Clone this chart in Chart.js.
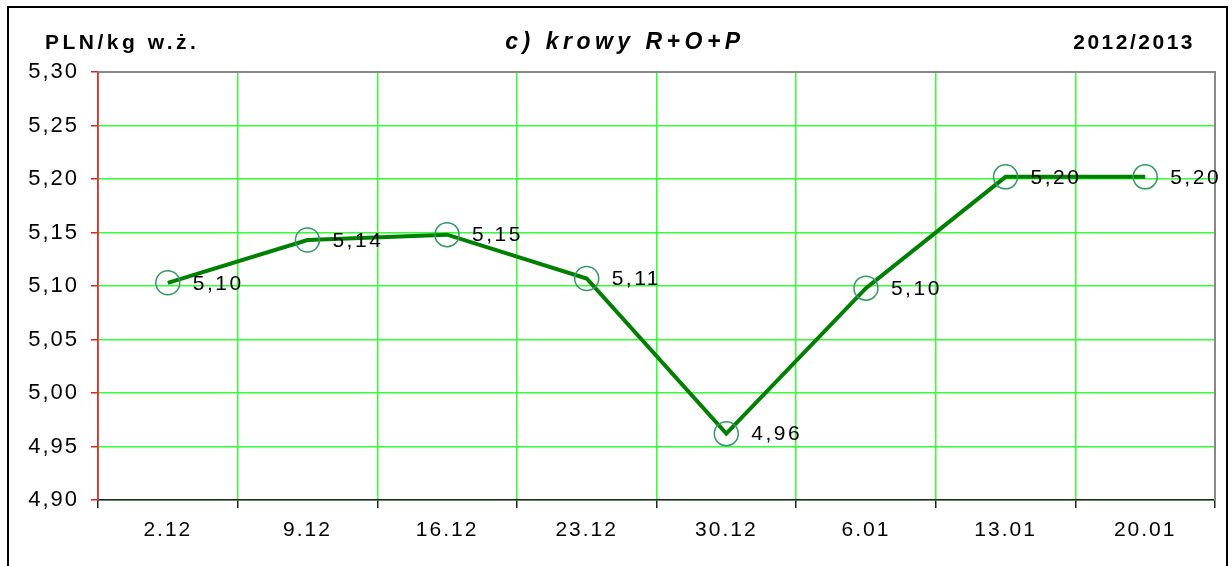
<!DOCTYPE html>
<html>
<head>
<meta charset="utf-8">
<script src="https://cdn.jsdelivr.net/npm/chart.js@4"></script>
<style>
  html, body { margin: 0; padding: 0; background: #fff; }
  #wrap { width: 1232px; height: 566px; }
</style>
</head>
<body>
<div id="wrap"><canvas id="priceChart" width="1232" height="566"></canvas></div>
<script>
const weeks = ["2.12", "9.12", "16.12", "23.12", "30.12", "6.01", "13.01", "20.01"];
const prices = [5.103, 5.143, 5.148, 5.107, 4.962, 5.098, 5.202, 5.202];
const priceLabels = ["5,10", "5,14", "5,15", "5,11", "4,96", "5,10", "5,20", "5,20"];
const unitText = "PLN/kg w.ż.";
const titleText = "c) krowy R+O+P";
const seasonText = "2012/2013";

const fontFamily = "'Liberation Sans', Arial, sans-serif";
const gridGreen = "#33ff33";

// frame, headings, plot border and value labels
const decorations = {
  id: "decorations",
  beforeDraw(chart) {
    const ctx = chart.ctx;
    ctx.save();
    ctx.fillStyle = "#fff";
    ctx.fillRect(0, 0, chart.width, chart.height);
    ctx.strokeStyle = "#000";
    ctx.lineWidth = 2;
    ctx.beginPath();
    ctx.moveTo(8, 570);
    ctx.lineTo(8, 7);
    ctx.lineTo(1227, 7);
    ctx.lineTo(1227, 570);
    ctx.stroke();

    ctx.fillStyle = "#000";
    ctx.textBaseline = "middle";
    ctx.font = "bold 21px " + fontFamily;
    ctx.letterSpacing = "3.5px";
    ctx.textAlign = "left";
    ctx.fillText(unitText, 45, 43);
    ctx.letterSpacing = "2.5px";
    ctx.textAlign = "right";
    ctx.fillText(seasonText, 1195, 43);
    ctx.font = "italic bold 23px " + fontFamily;
    ctx.letterSpacing = "4.5px";
    ctx.textAlign = "center";
    ctx.fillText(titleText, 625, 43);
    ctx.restore();
    // spaced-out digits for the axis ticks as well
    ctx.letterSpacing = "2px";
  },
  beforeDatasetsDraw(chart) {
    const { ctx, chartArea: a } = chart;
    ctx.save();
    ctx.strokeStyle = "#888";
    ctx.lineWidth = 2;
    ctx.beginPath();
    ctx.moveTo(a.left, a.top);
    ctx.lineTo(a.right, a.top);
    ctx.lineTo(a.right, a.bottom);
    ctx.stroke();
    // red value axis on top of the first vertical grid line
    ctx.strokeStyle = "#dd3333";
    ctx.lineWidth = 1.5;
    ctx.beginPath();
    ctx.moveTo(a.left, a.top);
    ctx.lineTo(a.left, a.bottom);
    ctx.stroke();
    ctx.restore();
  },
  afterDatasetsDraw(chart) {
    const ctx = chart.ctx;
    const meta = chart.getDatasetMeta(0);
    ctx.save();
    ctx.fillStyle = "#000";
    ctx.font = "21px " + fontFamily;
    ctx.letterSpacing = "2.5px";
    ctx.textAlign = "left";
    ctx.textBaseline = "middle";
    meta.data.forEach((pt, i) => {
      ctx.fillText(priceLabels[i], pt.x + 25, pt.y + 1);
    });
    ctx.restore();
  }
};

new Chart(document.getElementById("priceChart"), {
  type: "line",
  data: {
    labels: weeks,
    datasets: [{
      data: prices,
      borderColor: "#008000",
      borderWidth: 4,
      pointRadius: 12,
      pointHoverRadius: 12,
      pointBorderColor: "#339966",
      pointBackgroundColor: "rgba(0,0,0,0)",
      pointBorderWidth: 1.5,
      tension: 0
    }]
  },
  options: {
    responsive: false,
    animation: false,
    events: [],
    layout: { padding: { left: 0, right: 17, top: 72, bottom: 0 } },
    plugins: {
      legend: { display: false },
      tooltip: { enabled: false }
    },
    scales: {
      x: {
        offset: true,
        grid: {
          offset: true,
          color: c => (c.index === 0 ? "rgba(0,0,0,0)" : gridGreen),
          lineWidth: 1.5,
          tickColor: "#222",
          tickLength: 8
        },
        border: { color: "#222", width: 1.5 },
        ticks: {
          color: "#000",
          font: { family: fontFamily, size: 21 },
          padding: 10,
          maxRotation: 0
        },
        afterFit(scale) { scale.height = 66; }
      },
      y: {
        min: 4.9,
        max: 5.3,
        grid: {
          color: gridGreen,
          lineWidth: 1.5,
          tickColor: "#dd2222",
          tickLength: 7
        },
        border: { color: "#dd3333", width: 1.5 },
        ticks: {
          stepSize: 0.05,
          color: "#000",
          font: { family: fontFamily, size: 22 },
          padding: 12,
          callback: v => (Math.round(v * 100) / 100).toFixed(2).replace(".", ",")
        },
        afterFit(scale) { scale.width = 98; }
      }
    }
  },
  plugins: [decorations]
});
</script>
</body>
</html>
